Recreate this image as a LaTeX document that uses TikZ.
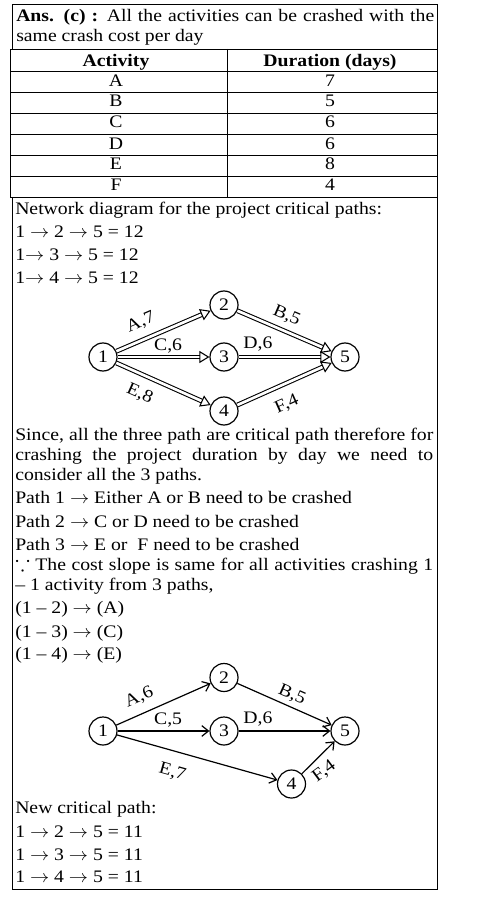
\documentclass[tikz,border=0pt]{standalone}
\usepackage{amssymb}
\usepackage{graphicx}
\usepackage{fontspec}
\setmainfont{Liberation Serif}[FakeStretch=1.12]
\usepackage{tikz}
\usetikzlibrary{arrows.meta}
\newcommand{\rarr}{\scalebox{1.2}[1.1]{$\rightarrow$}}
\newcommand{\fullline}[1]{\makebox[313.5pt][s]{#1}}

\begin{document}
\begin{tikzpicture}[x=0.75pt, y=-0.75pt, font=\fontsize{13.2}{15}\selectfont,
		frame/.style={line width=0.7pt},
		txt/.style={anchor=base west, inner sep=0pt},
		cell/.style={anchor=base, inner sep=0pt},
		ev/.style={draw, circle, line width=0.9pt, minimum size=21pt, inner sep=0pt},
		crit/.style={double, double distance=2pt, line width=0.8pt, -{Triangle[open, length=7.5pt, width=9pt]}},
		act/.style={line width=0.9pt, -{Straight Barb[length=5pt, width=8pt]}},
		lbl/.style={sloped, inner sep=0.5pt}]
		\useasboundingbox (0,0) rectangle (476,898);
		
		% answer box
		\draw[frame] (12,4) rectangle (437,49);
		\draw (16,22) node[txt] (ans1) {\fullline{\textbf{Ans. (c) :} All the activities can be crashed with the}};
		\draw (16,42) node[txt] (ans2) {same crash cost per day};
		
		% table
		\draw[frame] (10,49) rectangle (437,197);
		\draw[frame] (227,49) -- (227,197);
		\draw[frame] (10,71) -- (437,71);
		\draw[frame] (10,92) -- (437,92);
		\draw[frame] (10,113) -- (437,113);
		\draw[frame] (10,134) -- (437,134);
		\draw[frame] (10,155) -- (437,155);
		\draw[frame] (10,176) -- (437,176);
		\draw (116,67) node[cell] (hAct) {\textbf{Activity}};
		\draw (330,67) node[cell] (hDur) {\textbf{Duration (days)}};
		\draw (116,87) node[cell] (tA) {A};   \draw (330,87) node[cell] (dA) {7};
		\draw (116,107) node[cell] (tB) {B};  \draw (330,107) node[cell] (dB) {5};
		\draw (116,128) node[cell] (tC) {C};  \draw (330,128) node[cell] (dC) {6};
		\draw (116,150) node[cell] (tD) {D};  \draw (330,150) node[cell] (dD) {6};
		\draw (116,170) node[cell] (tE) {E};  \draw (330,170) node[cell] (dE) {8};
		\draw (116,191) node[cell] (tF) {F};  \draw (330,191) node[cell] (dF) {4};
		
		% main box
		\draw[frame] (12,197) rectangle (437,889);
		\draw (15,215) node[txt] (net) {Network diagram for the project critical paths:};
		\draw (15,238) node[txt] (cpA) {1 \rarr\ 2 \rarr\ 5 = 12};
		\draw (15,261) node[txt] (cpB) {1\rarr\ 3 \rarr\ 5 = 12};
		\draw (15,283) node[txt] (cpC) {1\rarr\ 4 \rarr\ 5 = 12};
		
		% first network
		\draw (103,357) node[ev] (a1) {1};
		\draw (224,305) node[ev] (a2) {2};
		\draw (224,357) node[ev] (a3) {3};
		\draw (224,411) node[ev] (a4) {4};
		\draw (345,357) node[ev] (a5) {5};
		\draw[crit] (a1) -- (a2) node[lbl, above=6.5pt, pos=0.33] {A,7};
		\draw[crit] (a1) -- (a3) node[lbl, above=2pt, pos=0.55] {C,6};
		\draw[crit] (a1) -- (a4) node[lbl, below=8pt, pos=0.33] {E,8};
		\draw[crit] (a2) -- (a5) node[lbl, above=5pt, pos=0.46] {B,5};
		\draw[crit] (a3) -- (a5) node[lbl, above=3.5pt, pos=0.21] {D,6};
		\draw[crit] (a4) -- (a5) node[lbl, below=8.5pt, pos=0.44] {F,4};
		
		\draw (15,440) node[txt] (why1) {\fullline{Since, all the three path are critical path therefore for}};
		\draw (15,460) node[txt] (why2) {\fullline{crashing the project duration by day we need to}};
		\draw (15,480) node[txt] (why3) {consider all the 3 paths.};
		\draw (15,503) node[txt] (path1) {Path 1 \rarr\ Either A or B need to be crashed};
		\draw (15,527) node[txt] (path2) {Path 2 \rarr\ C or D need to be crashed};
		\draw (15,550) node[txt] (path3) {Path 3 \rarr\ E or\ \ F need to be crashed};
		\draw (15,570) node[txt] (slope1) {\fullline{\scalebox{1.25}{$\because$} The cost slope is same for all activities crashing 1}};
		\draw (15,590) node[txt] (slope2) {-- 1 activity from 3 paths,};
		\draw (15,613) node[txt] (pick1) {(1 -- 2) \rarr\ (A)};
		\draw (15,637) node[txt] (pick2) {(1 -- 3) \rarr\ (C)};
		\draw (15,659) node[txt] (pick3) {(1 -- 4) \rarr\ (E)};
		
		% crashed network
		\draw (103,731) node[ev] (b1) {1};
		\draw (224,677.5) node[ev] (b2) {2};
		\draw (224,731) node[ev] (b3) {3};
		\draw (291.5,784) node[ev] (b4) {4};
		\draw (345,731) node[ev] (b5) {5};
		\draw[act] (b1) -- (b2) node[lbl, above=5.5pt, pos=0.31] {A,6};
		\draw[act] (b1) -- (b3) node[lbl, above=2pt, pos=0.55] {C,5};
		\draw[act] (b1) -- (b4) node[lbl, below=9.5pt, pos=0.38] {E,7};
		\draw[act] (b2) -- (b5) node[lbl, above=2.2pt, pos=0.53] {B,5};
		\draw[act] (b3) -- (b5) node[lbl, above=2.8pt, pos=0.21] {D,6};
		\draw[act] (b4) -- (b5) node[lbl, below=4.5pt, pos=0.4, rotate=-8] {F,4};
		
		\draw (15,813) node[txt] (newcp) {New critical path:};
		\draw (15,837) node[txt] (ncA) {1 \rarr\ 2 \rarr\ 5 = 11};
		\draw (15,860) node[txt] (ncB) {1 \rarr\ 3 \rarr\ 5 = 11};
		\draw (15,882) node[txt] (ncC) {1 \rarr\ 4 \rarr\ 5 = 11};
	\end{tikzpicture}
\end{document}
